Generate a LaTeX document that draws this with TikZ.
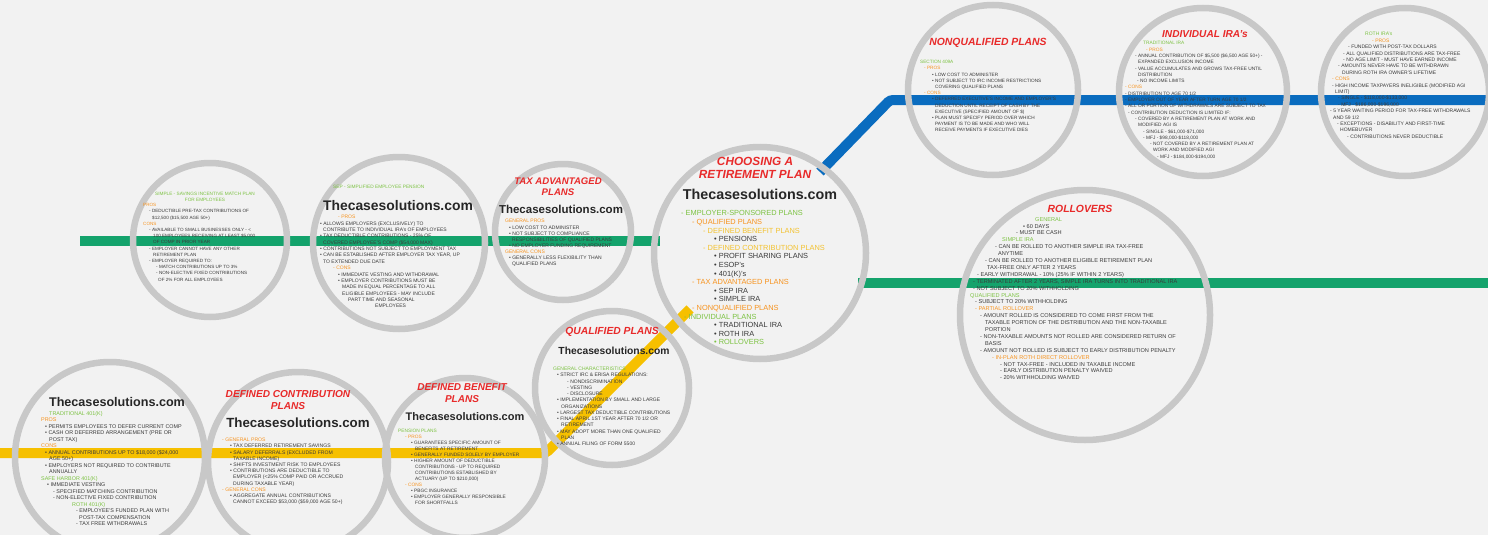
\documentclass[tikz,border=0pt]{standalone}
\usepackage{fontspec}
\setmainfont{Liberation Sans}
\setsansfont{Liberation Sans}
\definecolor{bgc}{HTML}{F2F2F2}
\definecolor{ringc}{HTML}{C8C8C8}
\definecolor{tred}{HTML}{E82A2A}
\definecolor{tgreen}{HTML}{7CC242}
\definecolor{torange}{HTML}{F7931E}
\definecolor{tyellow}{HTML}{F2C230}
\definecolor{ttext}{HTML}{3A3A3A}
\definecolor{brandc}{HTML}{262626}
\definecolor{lgreen}{HTML}{14A36C}
\definecolor{lblue}{HTML}{0A6CBF}
\definecolor{lyellow}{HTML}{F6C000}
\newcommand{\gtx}[1]{\textcolor{tgreen}{#1}}
\newcommand{\otx}[1]{\textcolor{torange}{#1}}
\newcommand{\ytx}[1]{\textcolor{tyellow}{#1}}
\newcommand{\indt}[1]{\hspace*{#1pt}}
\tikzset{
  ring/.style={circle, draw=ringc, line width=6.5pt, inner sep=0pt, minimum size=#1},
  band/.style={line width=10pt, draw=#1},
  ttl/.style 2 args={text=tred, align=center, inner sep=0pt, font=\fontsize{#1}{#2}\selectfont\bfseries\itshape},
  brand/.style={text=brandc, inner sep=0pt, font=\fontsize{#1}{#1}\selectfont\bfseries},
  body/.style 2 args={anchor=north west, align=left, inner sep=0pt, text=ttext, font=\fontsize{#1}{#2}\selectfont},
}
\begin{document}
\begin{tikzpicture}[x=1pt,y=-1pt]
\useasboundingbox (0,0) rectangle (1488,535);
\fill[bgc] (0,0) rectangle (1488,535);

% ---- connector bands ----
\coordinate (g1a) at (80,241);
\coordinate (g1b) at (660,241);
\coordinate (ya) at (0,453);
\coordinate (yb) at (546,453);
\coordinate (yc) at (690,309);
\coordinate (ba) at (820,172);
\coordinate (bb) at (890,100);
\coordinate (bc) at (1488,100);
\coordinate (g2a) at (858,283);
\coordinate (g2b) at (1488,283);
\draw[band=lgreen] (g1a) -- (g1b);
\draw[band=lgreen] (g2a) -- (g2b);
\draw[band=lyellow, rounded corners=3pt] (ya) -- (yb) -- (yc);
\draw[band=lblue, rounded corners=3pt] (ba) -- (bb) -- (bc);

% ---- circles ----
\node[ring=190pt] (c1) at (110,457) {};
\node[ring=180pt] (c2) at (298,462) {};
\node[ring=160pt] (c3) at (465,458) {};
\node[ring=154pt] (c4) at (612,388) {};
\node[ring=212pt] (c5) at (760,253) {};
\node[ring=154pt] (c6) at (210,240) {};
\node[ring=172pt] (c7) at (399,243) {};
\node[ring=136pt] (c8) at (563,232) {};
\node[ring=170pt] (c9) at (993,90) {};
\node[ring=168pt] (c10) at (1203,92) {};
\node[ring=168pt] (c11) at (1405,92) {};
\node[ring=250pt] (c12) at (1085,315) {};

% ---- circle 1: 401(k) ----
\node[brand=12.6] (b1) at (117,402) {Thecasesolutions.com};
\node[body={5.4}{6.5}] (t1) at (41,411) {%
\indt{8}\gtx{TRADITIONAL 401(K)}\\
\otx{PROS}\\
\indt{4}• PERMITS EMPLOYEES TO DEFER CURRENT COMP\\
\indt{4}• CASH OR DEFERRED ARRANGEMENT (PRE OR\\
\indt{8}POST TAX)\\
\otx{CONS}\\
\indt{4}• ANNUAL CONTRIBUTIONS UP TO \$18,000 (\$24,000\\
\indt{8}AGE 50+)\\
\indt{4}• EMPLOYERS NOT REQUIRED TO CONTRIBUTE\\
\indt{8}ANNUALLY\\
\gtx{SAFE HARBOR 401(K)}\\
\indt{6}• IMMEDIATE VESTING\\
\indt{12}- SPECIFIED MATCHING CONTRIBUTION\\
\indt{12}- NON-ELECTIVE FIXED CONTRIBUTION\\
\indt{31}\gtx{ROTH 401(K)}\\
\indt{35}- EMPLOYEE'S FUNDED PLAN WITH\\
\indt{38}POST-TAX COMPENSATION\\
\indt{35}- TAX FREE WITHDRAWALS};

% ---- circle 2: defined contribution ----
\node[ttl={10.1}{12}] (h2) at (288,400) {DEFINED CONTRIBUTION\\PLANS};
\node[brand=13.3] (b2) at (298,423) {Thecasesolutions.com};
\node[body={5.1}{6.2}] (t2) at (222,438) {%
\otx{- GENERAL PROS}\\
\indt{8}• TAX DEFERRED RETIREMENT SAVINGS\\
\indt{8}• SALARY DEFERRALS (EXCLUDED FROM\\
\indt{11}TAXABLE INCOME)\\
\indt{8}• SHIFTS INVESTMENT RISK TO EMPLOYEES\\
\indt{8}• CONTRIBUTIONS ARE DEDUCTIBLE TO\\
\indt{11}EMPLOYER (<25\% COMP PAID OR ACCRUED\\
\indt{11}DURING TAXABLE YEAR)\\
\otx{- GENERAL CONS}\\
\indt{8}• AGGREGATE ANNUAL CONTRIBUTIONS\\
\indt{11}CANNOT EXCEED \$53,000 (\$59,000 AGE 50+)};

% ---- circle 3: defined benefit ----
\node[ttl={10}{12}] (h3) at (462,393) {DEFINED BENEFIT\\PLANS};
\node[brand=11] (b3) at (465,417) {Thecasesolutions.com};
\node[body={4.8}{6.0}] (t3) at (398,429) {%
\gtx{PENSION PLANS}\\
\indt{7}\otx{- PROS}\\
\indt{13}• GUARANTEES SPECIFIC AMOUNT OF\\
\indt{17}BENEFITS AT RETIREMENT\\
\indt{13}• GENERALLY FUNDED SOLELY BY EMPLOYER\\
\indt{13}• HIGHER AMOUNT OF DEDUCTIBLE\\
\indt{17}CONTRIBUTIONS - UP TO REQUIRED\\
\indt{17}CONTRIBUTIONS ESTABLISHED BY\\
\indt{17}ACTUARY (UP TO \$210,000)\\
\indt{7}\otx{- CONS}\\
\indt{13}• PBGC INSURANCE\\
\indt{13}• EMPLOYER GENERALLY RESPONSIBLE\\
\indt{17}FOR SHORTFALLS};

% ---- circle 4: qualified plans ----
\node[ttl={10.3}{12}] (h4) at (612,332) {QUALIFIED PLANS};
\node[brand=10.3] (b4) at (614,351) {Thecasesolutions.com};
\node[body={5.0}{6.25}] (t4) at (553,367) {%
\gtx{GENERAL CHARACTERISTICS}\\
\indt{4}• STRICT IRC \& ERISA REGULATIONS:\\
\indt{14}- NONDISCRIMINATION\\
\indt{14}- VESTING\\
\indt{14}- DISCLOSURE\\
\indt{4}• IMPLEMENTATION BY SMALL AND LARGE\\
\indt{8}ORGANIZATIONS\\
\indt{4}• LARGEST TAX DEDUCTIBLE CONTRIBUTIONS\\
\indt{4}• FINAL APRIL 1ST YEAR AFTER 70 1/2 OR\\
\indt{8}RETIREMENT\\
\indt{4}• MAY ADOPT MORE THAN ONE QUALIFIED\\
\indt{8}PLAN\\
\indt{4}• ANNUAL FILING OF FORM 5500};

% ---- central circle ----
\node[ttl={11.8}{12.5}] (h5) at (755,168) {CHOOSING A\\RETIREMENT PLAN};
\node[brand=14.3] (b5) at (760,194) {Thecasesolutions.com};
\node[body={7.4}{8.6}] (t5) at (681,210.5) {%
\gtx{- EMPLOYER-SPONSORED PLANS}\\
\indt{11}\otx{- QUALIFIED PLANS}\\
\indt{22}\ytx{- DEFINED BENEFIT PLANS}\\
\indt{33}• PENSIONS\\
\indt{22}\ytx{- DEFINED CONTRIBUTION PLANS}\\
\indt{33}• PROFIT SHARING PLANS\\
\indt{33}• ESOP's\\
\indt{33}• 401(K)'s\\
\indt{11}\otx{- TAX ADVANTAGED PLANS}\\
\indt{33}• SEP IRA\\
\indt{33}• SIMPLE IRA\\
\indt{11}\otx{- NONQUALIFIED PLANS}\\
\indt{3}\gtx{- INDIVIDUAL PLANS}\\
\indt{33}• TRADITIONAL IRA\\
\indt{33}• ROTH IRA\\
\indt{33}\gtx{• ROLLOVERS}};

% ---- SIMPLE circle ----
\node[text=tgreen, align=center, inner sep=0pt, font=\fontsize{4.7}{6.2}\selectfont] (h6) at (205,197) {SIMPLE - SAVINGS INCENTIVE MATCH PLAN\\FOR EMPLOYEES};
\node[body={4.6}{6.2}] (t6) at (143,203.3) {%
\otx{PROS}\\
\indt{6}- DEDUCTIBLE PRE-TAX CONTRIBUTIONS OF\\
\indt{9}\$12,500 (\$15,500 AGE 50+)\\
\otx{CONS}\\
\indt{6}- AVAILABLE TO SMALL BUSINESSES ONLY - <\\
\indt{10}100 EMPLOYEES RECEIVING AT LEAST \$5,000\\
\indt{10}OF COMP IN PRIOR YEAR\\
\indt{6}- EMPLOYER CANNOT HAVE ANY OTHER\\
\indt{10}RETIREMENT PLAN\\
\indt{6}- EMPLOYER REQUIRED TO:\\
\indt{13}- MATCH CONTRIBUTIONS UP TO 3\%\\
\indt{13}- NON-ELECTIVE FIXED CONTRIBUTIONS\\
\indt{15}OF 2\% FOR ALL EMPLOYEES};

% ---- SEP circle ----
\node[anchor=west, text=tgreen, inner sep=0pt, font=\fontsize{4.8}{6}\selectfont] (h7) at (333,187) {SEP - SIMPLIFIED EMPLOYEE PENSION};
\node[brand=13.9] (b7) at (398,206) {Thecasesolutions.com};
\node[body={5.0}{6.35}] (t7) at (320,215.2) {%
\indt{18}\otx{- PROS}\\
• ALLOWS EMPLOYERS (EXCLUSIVELY) TO\\
\indt{3}CONTRIBUTE TO INDIVIDUAL IRA's OF EMPLOYEES\\
• TAX DEDUCTIBLE CONTRIBUTIONS - 25\% OF\\
\indt{3}COVERED EMPLOYEE'S COMP (\$54,000 MAX)\\
• CONTRIBUTIONS NOT SUBJECT TO EMPLOYMENT TAX\\
• CAN BE ESTABLISHED AFTER EMPLOYER TAX YEAR, UP\\
\indt{3}TO EXTENDED DUE DATE\\
\indt{13}\otx{- CONS}\\
\indt{18}• IMMEDIATE VESTING AND WITHDRAWAL\\
\indt{18}• EMPLOYER CONTRIBUTIONS MUST BE\\
\indt{22}MADE IN EQUAL PERCENTAGE TO ALL\\
\indt{22}ELIGIBLE EMPLOYEES - MAY INCLUDE\\
\indt{28}PART TIME AND SEASONAL\\
\indt{55}EMPLOYEES};

% ---- Tax advantaged circle ----
\node[ttl={9.6}{11}] (h8) at (558,186.5) {TAX ADVANTAGED\\PLANS};
\node[brand=11.5] (b8) at (561,209) {Thecasesolutions.com};
\node[body={5.0}{6.15}] (t8) at (505,219.2) {%
\otx{GENERAL PROS}\\
\indt{4}• LOW COST TO ADMINISTER\\
\indt{4}• NOT SUBJECT TO COMPLIANCE\\
\indt{7}RESPONSIBILITIES OF QUALIFIED PLANS\\
\indt{4}• NO EMPLOYER FUNDING REQUIREMENT\\
\otx{GENERAL CONS}\\
\indt{4}• GENERALLY LESS FLEXIBILITY THAN\\
\indt{7}QUALIFIED PLANS};

% ---- Nonqualified circle ----
\node[ttl={10.4}{12}] (h9) at (988,43) {NONQUALIFIED PLANS};
\node[body={4.7}{6.2}] (t9) at (920,60.3) {%
\gtx{SECTION 409A}\\
\indt{4}\otx{- PROS}\\
\indt{12}• LOW COST TO ADMINISTER\\
\indt{12}• NOT SUBJECT TO IRC INCOME RESTRICTIONS\\
\indt{15}COVERING QUALIFIED PLANS\\
\indt{4}\otx{- CONS}\\
\indt{12}• DEFERRED EXECUTIVE'S INCOME AND EMPLOYER'S\\
\indt{15}DEDUCTION UNTIL RECEIPT OF CASH BY THE\\
\indt{15}EXECUTIVE (SPECIFIED AMOUNT OF \$)\\
\indt{12}• PLAN MUST SPECIFY PERIOD OVER WHICH\\
\indt{15}PAYMENT IS TO BE MADE AND WHO WILL\\
\indt{15}RECEIVE PAYMENTS IF EXECUTIVE DIES};

% ---- Individual IRAs circle ----
\node[ttl={10.1}{12}] (h10) at (1205,34) {INDIVIDUAL IRA's};
\node[body={4.8}{6.3}] (t10) at (1125,41.3) {%
\indt{18}\gtx{TRADITIONAL IRA}\\
\indt{21}\otx{- PROS}\\
\indt{10}- ANNUAL CONTRIBUTION OF \$5,500 (\$6,500 AGE 50+) -\\
\indt{13}EXPANDED EXCLUSION INCOME\\
\indt{10}- VALUE ACCUMULATES AND GROWS TAX-FREE UNTIL\\
\indt{13}DISTRIBUTION\\
\indt{12}- NO INCOME LIMITS\\
\otx{- CONS}\\
- DISTRIBUTION TO AGE 70 1/2\\
- EMPLOYER OUT OF YEAR AFTER TURN AGE 70 1/2\\
- ALL OR PORTION OF WITHDRAWALS ARE SUBJECT TO TAX\\
\indt{3}- CONTRIBUTION DEDUCTION IS LIMITED IF:\\
\indt{10}- COVERED BY A RETIREMENT PLAN AT WORK AND\\
\indt{13}MODIFIED AGI IS\\
\indt{18}- SINGLE - \$61,000-\$71,000\\
\indt{18}- MFJ - \$98,000-\$118,000\\
\indt{25}- NOT COVERED BY A RETIREMENT PLAN AT\\
\indt{28}WORK AND MODIFIED AGI\\
\indt{32}- MFJ - \$184,000-\$194,000};

% ---- Roth IRA circle ----
\node[body={5.0}{6.4}] (t11) at (1330,32.2) {%
\indt{35}\gtx{ROTH IRA's}\\
\indt{42}\otx{- PROS}\\
\indt{18}- FUNDED WITH POST-TAX DOLLARS\\
\indt{13}- ALL QUALIFIED DISTRIBUTIONS ARE TAX-FREE\\
\indt{13}- NO AGE LIMIT - MUST HAVE EARNED INCOME\\
\indt{8}- AMOUNTS NEVER HAVE TO BE WITHDRAWN\\
\indt{12}DURING ROTH IRA OWNER'S LIFETIME\\
\indt{2}\otx{- CONS}\\
\indt{2}- HIGH INCOME TAXPAYERS INELIGIBLE (MODIFIED AGI\\
\indt{5}LIMIT)\\
\indt{8}- SINGLE - \$118,000-\$133,000\\
\indt{8}- MFJ - \$186,000-\$196,000\\
- 5 YEAR WAITING PERIOD FOR TAX-FREE WITHDRAWALS\\
\indt{3}AND 59 1/2\\
\indt{7}- EXCEPTIONS - DISABILITY AND FIRST-TIME\\
\indt{10}HOMEBUYER\\
\indt{17}- CONTRIBUTIONS NEVER DEDUCTIBLE};

% ---- Rollovers circle ----
\node[ttl={10.4}{12}] (h12) at (1080,209) {ROLLOVERS};
\node[body={5.6}{6.9}] (t12) at (970,217) {%
\indt{65}\gtx{GENERAL}\\
\indt{53}• 60 DAYS\\
\indt{46}- MUST BE CASH\\
\indt{32}\gtx{SIMPLE IRA}\\
\indt{25}- CAN BE ROLLED TO ANOTHER SIMPLE IRA TAX-FREE\\
\indt{28}ANYTIME\\
\indt{15}- CAN BE ROLLED TO ANOTHER ELIGIBLE RETIREMENT PLAN\\
\indt{17}TAX-FREE ONLY AFTER 2 YEARS\\
\indt{7}- EARLY WITHDRAWAL - 10\% (25\% IF WITHIN 2 YEARS)\\
\indt{3}- TERMINATED AFTER 2 YEARS, SIMPLE IRA TURNS INTO TRADITIONAL IRA\\
\indt{3}- NOT SUBJECT TO 20\% WITHHOLDING\\
\gtx{QUALIFIED PLANS}\\
\indt{5}- SUBJECT TO 20\% WITHHOLDING\\
\indt{5}\otx{- PARTIAL ROLLOVER}\\
\indt{10}- AMOUNT ROLLED IS CONSIDERED TO COME FIRST FROM THE\\
\indt{15}TAXABLE PORTION OF THE DISTRIBUTION AND THE NON-TAXABLE\\
\indt{15}PORTION\\
\indt{10}- NON-TAXABLE AMOUNTS NOT ROLLED ARE CONSIDERED RETURN OF\\
\indt{15}BASIS\\
\indt{10}- AMOUNT NOT ROLLED IS SUBJECT TO EARLY DISTRIBUTION PENALTY\\
\indt{22}\otx{- IN-PLAN ROTH DIRECT ROLLOVER}\\
\indt{30}- NOT TAX-FREE - INCLUDED IN TAXABLE INCOME\\
\indt{30}- EARLY DISTRIBUTION PENALTY WAIVED\\
\indt{30}- 20\% WITHHOLDING WAIVED};
\end{tikzpicture}
\end{document}
